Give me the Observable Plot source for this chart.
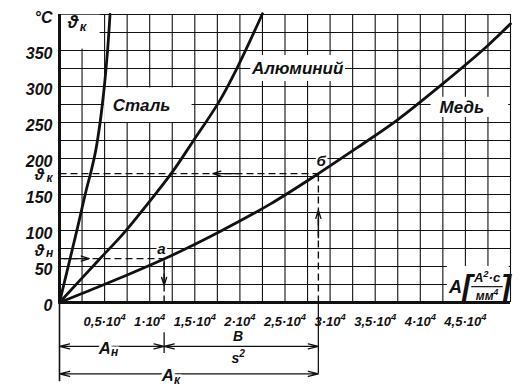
<!DOCTYPE html>
<html><head><meta charset="utf-8">
<script src="https://cdn.jsdelivr.net/npm/d3@7"></script>
<script src="https://cdn.jsdelivr.net/npm/@observablehq/plot@0.6"></script>
<style>
body{margin:0;background:#fff;}
#chart svg{font-family:"Liberation Sans",Arial,"DejaVu Sans",sans-serif;}
#chart svg text{font-style:italic;font-weight:bold;}
#chart g[aria-label="material"] text{letter-spacing:1px;}
</style></head><body><div id="chart"></div>
<script>
// Series (A in 10^4 A²·s/mm⁴, temperature in °C)
const steelA = [0, 0.1, 0.2, 0.3, 0.35, 0.4, 0.45, 0.497, 0.533, 0.56];
const steelT = [0, 52, 104, 158, 182, 210, 250, 300, 350, 400];
const aluA = [0, 0.42, 0.71, 0.99, 1.25, 1.47, 1.77, 1.97, 2.25];
const aluT = [0, 57, 96, 139, 181, 222, 279, 326, 401];
const cuA = [0, 0.32, 0.69, 1.17, 1.77, 2.34, 2.87, 3.3, 3.74, 4.24, 4.74, 5.0];
const cuT = [0, 16, 35, 61, 98, 137, 179, 215, 253, 303, 356, 387];

// Ticks
const xTicks = [0.5, 1, 1.5, 2, 2.5, 3, 3.5, 4, 4.5];
const xTickLabels = ["0,5·10⁴", "1·10⁴", "1,5·10⁴", "2·10⁴", "2,5·10⁴", "3·10⁴", "3,5·10⁴", "4·10⁴", "4,5·10⁴"];
const yTicks = [0, 50, 100, 150, 200, 250, 300, 350, 400];
const yTickLabels = ["0", "50", "100", "150", "200", "250", "300", "350", "°C"];
const gridXValues = [0,0.25,0.5,0.75,1,1.25,1.5,1.75,2,2.25,2.5,2.75,3,3.25,3.5,3.75,4,4.25,4.5,4.75,5];
const gridYValues = [25,50,75,100,125,150,175,200,225,250,275,300,325,350,375,400];

// Working points
const An = 1.16, thetaN = 61;   // point а
const Ak = 2.87, thetaK = 179;  // point б
const dimNy = -61, dimKy = -99; // dimension lines below the axis (in °C units)

// Annotation labels
const materialLabels = [
  {a: 0.91, t: 274, text: "Сталь"},
  {a: 2.64, t: 325, text: "Алюминий"},
  {a: 4.46, t: 271, text: "Медь"}
];
const boxes = [
  {x1: 0.01, x2: 0.45, y1: 352, y2: 399},
  {x1: 0.5, x2: 1.47, y1: 250, y2: 298},
  {x1: 2.12, x2: 3.17, y1: 307, y2: 343},
  {x1: 4.12, x2: 4.98, y1: 257, y2: 285},
  {x1: 4.3, x2: 4.985, y1: 1, y2: 50}
];

const pts = (A, T) => A.map((a, i) => ({a, t: T[i]}));
const blk = "#111";

const marks = [
  // grid
  Plot.ruleX(gridXValues, {y1: 0, y2: 400, stroke: blk, strokeWidth: 1.1}),
  Plot.ruleY(gridYValues, {x1: 0, x2: 5, stroke: blk, strokeWidth: 1.1}),
  // label boxes (blank the grid)
  Plot.rect(boxes, {x1: "x1", x2: "x2", y1: "y1", y2: "y2", fill: "white"}),
  // axes
  Plot.ruleX([0], {y1: 0, y2: 400, stroke: blk, strokeWidth: 3}),
  Plot.ruleX([0], {y1: -110, y2: 0, stroke: blk, strokeWidth: 1.6}),
  Plot.ruleY([0], {x1: 0, x2: 5, stroke: blk, strokeWidth: 3}),
  // dashed construction lines
  Plot.link([{x1: 0, y1: thetaK, x2: Ak, y2: thetaK}, {x1: Ak, y1: 0, x2: Ak, y2: thetaK},
             {x1: 0, y1: thetaN, x2: An, y2: thetaN}, {x1: An, y1: 0, x2: An, y2: thetaN}],
            {x1: "x1", y1: "y1", x2: "x2", y2: "y2", stroke: blk, strokeWidth: 1.4, strokeDasharray: "7,4"}),
  // arrowheads on dashed lines
  Plot.arrow([{x1: 2.0, y1: thetaK, x2: 1.7, y2: thetaK},
              {x1: Ak, y1: 90, x2: Ak, y2: 128},
              {x1: 0.05, y1: thetaN, x2: 0.33, y2: thetaN},
              {x1: An, y1: 58, x2: An, y2: 24}],
             {x1: "x1", y1: "y1", x2: "x2", y2: "y2", stroke: blk, strokeWidth: 1.4, headLength: 9, headAngle: 35}),
  // curves
  Plot.line(pts(steelA, steelT), {x: "a", y: "t", curve: "catmull-rom", stroke: blk, strokeWidth: 2.8}),
  Plot.line(pts(aluA, aluT), {x: "a", y: "t", curve: "catmull-rom", stroke: blk, strokeWidth: 2.8}),
  Plot.line(pts(cuA, cuT), {x: "a", y: "t", curve: "catmull-rom", stroke: blk, strokeWidth: 2.8}),
  // dimension lines below the axis
  Plot.ruleX([Ak], {y1: dimKy, y2: 0, stroke: blk, strokeWidth: 1.3}),
  Plot.ruleX([An], {y1: -71, y2: -42, stroke: blk, strokeWidth: 1.3}),
  Plot.arrow([{x1: 0.6, y1: dimNy, x2: 0, y2: dimNy}, {x1: 0.6, y1: dimNy, x2: An, y2: dimNy},
              {x1: 2.0, y1: dimNy, x2: An, y2: dimNy}, {x1: 2.0, y1: dimNy, x2: Ak, y2: dimNy},
              {x1: 1.27, y1: dimKy, x2: 0, y2: dimKy}, {x1: 1.27, y1: dimKy, x2: Ak, y2: dimKy}],
             {x1: "x1", y1: "y1", x2: "x2", y2: "y2", stroke: blk, strokeWidth: 1.3, headLength: 12, headAngle: 28}),
  // dimension labels
  Plot.text([{a: 0.57, t: dimNy}], {x: "a", y: "t", text: () => "A", fontSize: 17, textAnchor: "end", dy: 2, fill: blk, stroke: "white", strokeWidth: 6}),
  Plot.text([{a: 0.57, t: dimNy}], {x: "a", y: "t", text: () => "н", fontSize: 12, textAnchor: "start", dy: 6, fill: blk, stroke: "white", strokeWidth: 5}),
  Plot.text([{a: 1.27, t: dimKy}], {x: "a", y: "t", text: () => "A", fontSize: 17, textAnchor: "end", dy: 2, fill: blk, stroke: "white", strokeWidth: 6}),
  Plot.text([{a: 1.27, t: dimKy}], {x: "a", y: "t", text: () => "к", fontSize: 12, textAnchor: "start", dy: 6, fill: blk, stroke: "white", strokeWidth: 5}),
  Plot.text([{a: 1.98, t: dimNy}], {x: "a", y: "t", text: () => "B", fontSize: 14, dy: -10, fill: blk}),
  Plot.text([{a: 1.98, t: dimNy}], {x: "a", y: "t", text: () => "s²", fontSize: 14, dy: 12, fill: blk}),
  // point labels
  Plot.text([{a: 1.13, t: 74, s: "a"}, {a: 2.9, t: 196, s: "б"}], {x: "a", y: "t", text: "s", fontSize: 15, fill: blk, stroke: "white", strokeWidth: 4}),
  // material labels
  Plot.text(materialLabels, {x: "a", y: "t", text: "text", fontSize: 17, fill: blk, ariaLabel: "material"}),
  // theta labels on the left
  Plot.text([{a: 0, t: thetaK}], {x: "a", y: "t", text: () => "ϑ", fontSize: 16, dx: -20, dy: 1, fill: blk}),
  Plot.text([{a: 0, t: thetaK}], {x: "a", y: "t", text: () => "к", fontSize: 12, dx: -10, dy: 5, fill: blk}),
  Plot.text([{a: 0, t: thetaN}], {x: "a", y: "t", text: () => "ϑ", fontSize: 16, dx: -20, dy: -8, fill: blk}),
  Plot.text([{a: 0, t: thetaN}], {x: "a", y: "t", text: () => "н", fontSize: 12, dx: -10, dy: -5, fill: blk}),
  Plot.text([{a: 0.15, t: 389}], {x: "a", y: "t", text: () => "ϑ", fontSize: 18, fill: blk}),
  Plot.text([{a: 0.26, t: 383}], {x: "a", y: "t", text: () => "к", fontSize: 13, fill: blk}),
  // unit label A [A²·c / мм⁴]
  Plot.text([{a: 4.39, t: 21}], {x: "a", y: "t", text: () => "A", fontSize: 18, fill: blk}),
  Plot.text([{a: 4.52, t: 22}, {a: 4.95, t: 22}], {x: "a", y: "t", text: (d, i) => i ? "]" : "[", fontSize: 31, fill: blk, fontWeight: "normal"}),
  Plot.text([{a: 4.74, t: 34}], {x: "a", y: "t", text: () => "A²·c", fontSize: 13, fill: blk}),
  Plot.ruleY([22], {x1: 4.57, x2: 4.92, stroke: blk, strokeWidth: 1.2}),
  Plot.text([{a: 4.74, t: 9}], {x: "a", y: "t", text: () => "мм⁴", fontSize: 12, fill: blk}),
  // axes tick labels
  Plot.axisX({ticks: xTicks, tickFormat: d => xTickLabels[xTicks.indexOf(d)], tickSize: 0, tickPadding: 14, fontSize: 13, label: null}),
  Plot.axisY({ticks: yTicks, tickFormat: d => yTickLabels[yTicks.indexOf(d)], tickSize: 0, tickPadding: 7, fontSize: 16, dy: 3, label: null})
];

const chart = Plot.plot({
  width: 520, height: 388,
  marginLeft: 59, marginRight: 10, marginTop: 14, marginBottom: 86,
  x: {domain: [0, 5]},
  y: {domain: [0, 400]},
  style: {fontFamily: "'Liberation Sans', Arial, 'DejaVu Sans', sans-serif", color: blk, background: "white"},
  marks
});
document.getElementById("chart").append(chart);

// render superscript characters as raised smaller digits
const supMap = {"²": "2", "⁴": "4"};
const NS = "http://www.w3.org/2000/svg";
chart.querySelectorAll("text").forEach(t => {
  if (t.childElementCount) return;
  const s = t.textContent;
  if (!/[²⁴]/.test(s)) return;
  const fs = parseFloat(getComputedStyle(t).fontSize) || 12;
  const rise = fs * 0.42;
  t.textContent = "";
  let up = false;
  for (const part of s.split(/([²⁴])/)) {
    if (!part) continue;
    const ts = document.createElementNS(NS, "tspan");
    if (supMap[part]) {
      ts.textContent = supMap[part];
      ts.setAttribute("font-size", (fs * 0.72).toFixed(1));
      if (!up) { ts.setAttribute("dy", (-rise).toFixed(1)); up = true; }
    } else {
      ts.textContent = part;
      if (up) { ts.setAttribute("dy", rise.toFixed(1)); up = false; }
    }
    t.appendChild(ts);
  }
});
</script>
</body></html>
